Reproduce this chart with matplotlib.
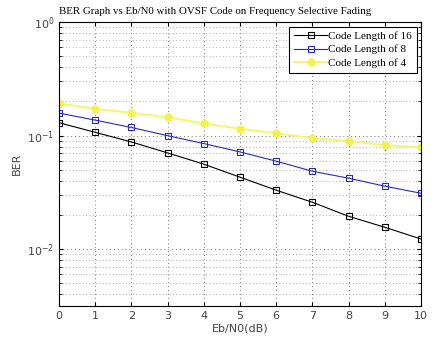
import numpy as np
import matplotlib.pyplot as plt
from matplotlib.ticker import LogLocator, NullFormatter

# Eb/N0 sweep and simulated BER for each OVSF code length
ebn0_db = [0, 1, 2, 3, 4, 5, 6, 7, 8, 9, 10]
ber_len16 = [0.130, 0.107, 0.0880, 0.0705, 0.0561, 0.0431, 0.0331, 0.0259, 0.0195, 0.0156, 0.0123]
ber_len8 = [0.158, 0.137, 0.118, 0.100, 0.0852, 0.0719, 0.0596, 0.0486, 0.0422, 0.0359, 0.0311]
ber_len4 = [0.193, 0.172, 0.159, 0.145, 0.128, 0.115, 0.105, 0.095, 0.0895, 0.0824, 0.0790]

fig = plt.figure(figsize=(4.45, 3.4), dpi=100)
ax = fig.add_axes([0.1326, 0.10, 0.8135, 0.835])

ax.semilogy(ebn0_db, ber_len16, color='black', marker='s', markersize=5,
            markerfacecolor='none', markeredgewidth=0.8, linewidth=0.8,
            label='Code Length of 16')
ax.semilogy(ebn0_db, ber_len8, color='#2a2ab8', marker='s', markersize=5,
            markerfacecolor='none', markeredgewidth=0.8, linewidth=0.8,
            label='Code Length of 8')
ax.semilogy(ebn0_db, ber_len4, color='#f6f66a', marker='o', markersize=5,
            markerfacecolor='#f2f250', markeredgecolor='#f2f250', linewidth=1.4,
            label='Code Length of 4')

ax.set_xlim(0, 10)
ax.set_ylim(10 ** -2.5, 1)
ax.set_xticks(range(0, 11))
ax.yaxis.set_major_locator(LogLocator(base=10, numticks=5))
ax.yaxis.set_minor_locator(LogLocator(base=10, subs=np.arange(2, 10), numticks=20))
ax.yaxis.set_minor_formatter(NullFormatter())

# MATLAB-like grid: dotted majors and minors
ax.grid(True, which='major', linestyle=(0, (1, 3)), color='#777777', linewidth=0.7)
ax.grid(True, which='minor', axis='y', linestyle=(0, (1, 3)), color='#999999', linewidth=0.6)
ax.tick_params(which='both', direction='in', top=True, right=True,
               labelsize=8, labelcolor='#444444')
ax.tick_params(which='major', length=3)
ax.tick_params(which='minor', length=2)
for sp in ax.spines.values():
    sp.set_linewidth(0.8)

ax.set_xlabel('Eb/N0(dB)', fontsize=8, color='#444444', labelpad=2)
ax.set_ylabel('BER', fontsize=8, color='#444444')
ax.set_title('BER Graph vs Eb/N0 with OVSF Code on Frequency Selective Fading',
             fontsize=7.8, family='Liberation Serif', loc='left', pad=6)

leg = ax.legend(loc='upper right', prop={'family': 'Liberation Serif', 'size': 8},
                fancybox=False, framealpha=1, edgecolor='black',
                borderpad=0.4, labelspacing=0.35, handlelength=3.0,
                handletextpad=0.1, borderaxespad=0.4)
leg.get_frame().set_linewidth(0.8)

fig.savefig('out.png', dpi=100)
